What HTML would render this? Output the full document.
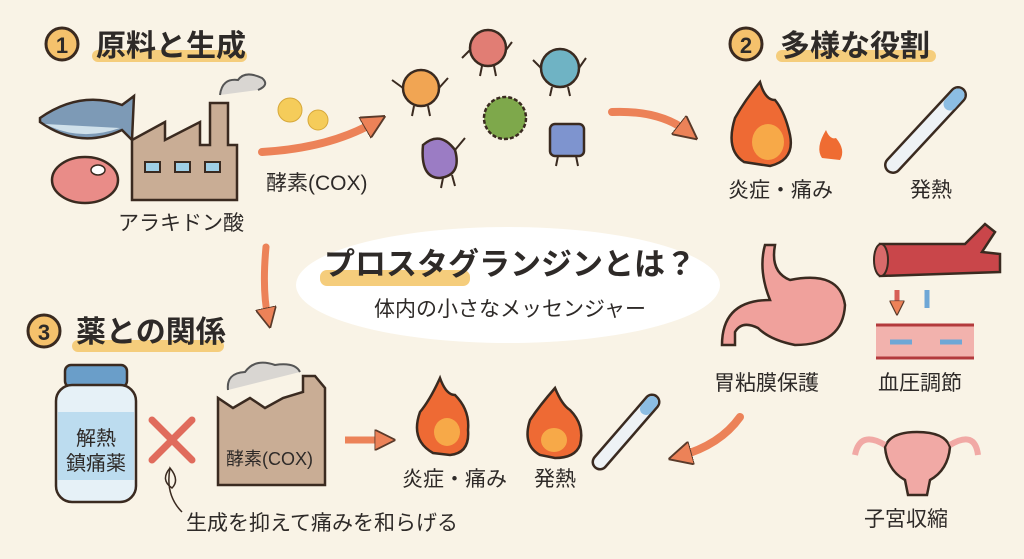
<!DOCTYPE html>
<html><head><meta charset="utf-8"><style>
html,body{margin:0;padding:0;background:#f9f3e6}
svg{display:block}
text{font-family:"Liberation Sans","Noto Sans CJK JP",sans-serif;fill:#2e2a28}
.h{font-weight:bold;font-size:30px}
.l{font-size:21px}
</style></head><body>
<svg width="1024" height="559" viewBox="0 0 1024 559" xmlns="http://www.w3.org/2000/svg">
<defs>
<marker id="ah" viewBox="0 0 10 10" refX="5" refY="5" markerWidth="3" markerHeight="3" orient="auto"><path d="M0,0 L10,5 L0,10 z" fill="#ec8258" stroke="#5a3a2a" stroke-width="0.8"/></marker>
</defs>
<rect width="1024" height="559" fill="#f9f3e6"/>
<!-- headings -->
<rect x="92" y="50" width="155" height="12" rx="6" fill="#f5cd7c"/>
<circle cx="62" cy="44" r="16" fill="#f5c16c" stroke="#3a2a20" stroke-width="3"/>
<text x="62" y="53" text-anchor="middle" font-size="22" font-weight="bold">1</text>
<text x="96" y="56" class="h">原料と生成</text>
<rect x="776" y="50" width="160" height="12" rx="6" fill="#f5cd7c"/>
<circle cx="746" cy="44" r="16" fill="#f5c16c" stroke="#3a2a20" stroke-width="3"/>
<text x="746" y="53" text-anchor="middle" font-size="22" font-weight="bold">2</text>
<text x="780" y="56" class="h">多様な役割</text>
<rect x="72" y="340" width="152" height="12" rx="6" fill="#f5cd7c"/>
<circle cx="44" cy="331" r="16" fill="#f5c16c" stroke="#3a2a20" stroke-width="3"/>
<text x="44" y="340" text-anchor="middle" font-size="22" font-weight="bold">3</text>
<text x="76" y="342" class="h">薬との関係</text>

<!-- center ellipse -->
<ellipse cx="508" cy="285" rx="212" ry="58" fill="#ffffff"/>
<rect x="320" y="270" width="150" height="16" rx="7" fill="#f5cd7c"/>
<text x="510" y="275" text-anchor="middle" font-size="31" font-weight="bold">プロスタグランジンとは？</text>
<text x="510" y="316" text-anchor="middle" font-size="21">体内の小さなメッセンジャー</text>

<!-- fish -->
<path d="M40,118 Q80,90 122,105 L134,96 L132,140 L122,130 Q80,150 40,122z" fill="#7d9ab6" stroke="#3a2a20" stroke-width="2.5"/>
<path d="M45,124 Q80,142 120,128" fill="#cfe0ea" stroke="none"/>
<!-- meat -->
<ellipse cx="85" cy="180" rx="33" ry="23" fill="#e98c88" stroke="#3a2a20" stroke-width="2.5"/>
<ellipse cx="98" cy="170" rx="7" ry="5" fill="#fff" stroke="#3a2a20" stroke-width="1.5"/>
<!-- factory 1 -->
<path d="M132,200 L132,140 L165,122 L165,140 L200,122 L200,145 L210,145 L210,103 L228,103 L228,145 L237,145 L237,200z" fill="#c9ad95" stroke="#3a2a20" stroke-width="2.5"/>
<rect x="145" y="162" width="15" height="10" fill="#9fcfe6" stroke="#3a2a20" stroke-width="2"/>
<rect x="175" y="162" width="15" height="10" fill="#9fcfe6" stroke="#3a2a20" stroke-width="2"/>
<rect x="205" y="162" width="15" height="10" fill="#9fcfe6" stroke="#3a2a20" stroke-width="2"/>
<path d="M220,95 Q222,78 238,80 Q245,70 262,78 Q270,85 258,90" fill="#d9d6d2" stroke="#555" stroke-width="2"/>
<text x="118" y="230" class="l">アラキドン酸</text>
<!-- puffs -->
<circle cx="290" cy="110" r="12" fill="#f5cc5a" stroke="#d7a83a" stroke-width="1"/>
<circle cx="318" cy="120" r="10" fill="#f5cc5a" stroke="#d7a83a" stroke-width="1"/>
<!-- arrow 1 -->
<path d="M262,152 Q330,148 375,122" fill="none" stroke="#ec8258" stroke-width="8" stroke-linecap="round" marker-end="url(#ah)"/>
<text x="266" y="190" class="l">酵素(COX)</text>
<!-- characters -->
<g stroke="#3a2a20" stroke-width="2" fill="none">
<path d="M403,88 L392,80 M439,88 L448,78 M414,106 L412,116 M428,106 L430,116"/>
<path d="M470,50 L462,58 M506,50 L512,42 M482,66 L480,76 M494,66 L496,76"/>
<path d="M541,68 L533,60 M579,68 L586,58 M552,87 L550,96 M568,87 L570,96"/>
<path d="M443,178 L441,188 M452,175 L455,186 M455,150 L465,138"/>
<path d="M558,156 L556,166 M576,156 L578,166"/>
</g>
<circle cx="421" cy="88" r="18" fill="#f1a553" stroke="#3a2a20" stroke-width="2.5"/>
<circle cx="488" cy="48" r="18" fill="#e17d74" stroke="#3a2a20" stroke-width="2.5"/>
<circle cx="560" cy="68" r="19" fill="#6fb3c4" stroke="#3a2a20" stroke-width="2.5"/>
<circle cx="505" cy="118" r="21" fill="#7ea84b" stroke="#3a2a20" stroke-width="2.5" stroke-dasharray="4 2"/>
<path d="M423,145 Q440,130 455,150 Q462,175 440,178 Q420,178 423,145z" fill="#9b7cc4" stroke="#3a2a20" stroke-width="2.5"/>
<rect x="550" y="124" width="34" height="32" rx="5" fill="#7e94cf" stroke="#3a2a20" stroke-width="2.5"/>
<!-- arrow 2 -->
<path d="M612,112 Q660,110 688,132" fill="none" stroke="#ec8258" stroke-width="8" stroke-linecap="round" marker-end="url(#ah)"/>
<!-- flame big -->
<path d="M744,162 Q725,150 735,118 Q745,100 760,82 Q765,100 775,100 Q785,112 790,135 Q795,160 770,166z" fill="#ee6a34" stroke="#3a2a20" stroke-width="2.5"/>
<ellipse cx="768" cy="142" rx="16" ry="18" fill="#f7a948"/>
<path d="M822,158 Q815,148 826,130 Q830,140 836,138 Q846,150 840,160z" fill="#ef6c32"/>
<text x="728" y="197" class="l">炎症・痛み</text>
<!-- thermometer -->
<path d="M893,165 L958,95" stroke="#3a2a20" stroke-width="18" stroke-linecap="round"/>
<path d="M893,165 L958,95" stroke="#eef2f5" stroke-width="13" stroke-linecap="round"/>
<path d="M950,104 L958,95" stroke="#8cbde3" stroke-width="13" stroke-linecap="round"/>
<text x="910" y="197" class="l">発熱</text>
<!-- stomach -->
<path d="M775,245 Q770,272 790,280 Q840,270 845,305 Q843,345 795,345 Q770,340 758,328 Q742,320 735,332 L735,345 L722,345 Q722,300 770,300 Q758,270 765,245z" fill="#f0a19c" stroke="#3a2a20" stroke-width="2.5"/>
<text x="714" y="390" class="l">胃粘膜保護</text>
<!-- vessels -->
<path d="M880,244 L965,244 L985,224 L995,232 L982,252 L1000,254 L1000,272 L880,276z" fill="#c9464a" stroke="#3a2a20" stroke-width="2.5"/>
<ellipse cx="881" cy="260" rx="7" ry="16" fill="#d86a6a" stroke="#3a2a20" stroke-width="2"/>
<path d="M897,290 L897,308" stroke="#d75f56" stroke-width="5" marker-end="url(#ah)"/>
<path d="M927,290 L927,308" stroke="#6fa7d6" stroke-width="5"/>
<rect x="876" y="325" width="98" height="33" fill="#f2b2ad"/>
<path d="M876,325 L974,325 M876,358 L974,358" stroke="#b33a3c" stroke-width="3"/>
<path d="M890,342 L912,342 M940,342 L962,342" stroke="#6fa7d6" stroke-width="5"/>
<text x="878" y="390" class="l">血圧調節</text>
<!-- uterus -->
<path d="M885,447 Q890,432 917,432 Q945,432 950,447 Q948,470 930,480 L927,495 L908,495 L905,480 Q887,470 885,447z" fill="#f1a9a5" stroke="#3a2a20" stroke-width="2.5"/>
<path d="M885,445 Q860,430 855,455 M950,445 Q975,430 978,455" fill="none" stroke="#f1a9a5" stroke-width="6"/>
<text x="864" y="526" class="l">子宮収縮</text>
<!-- arrow down -->
<path d="M266,247 Q262,290 268,318" fill="none" stroke="#ec8258" stroke-width="7" stroke-linecap="round" marker-end="url(#ah)"/>
<!-- bottle -->
<rect x="65" y="365" width="62" height="22" rx="6" fill="#6a9ec9" stroke="#3a2a20" stroke-width="2.5"/>
<rect x="56" y="385" width="80" height="117" rx="16" fill="#e6f1f7" stroke="#3a2a20" stroke-width="2.5"/>
<rect x="58" y="412" width="76" height="68" fill="#bcdcef"/>
<text x="96" y="445" text-anchor="middle" font-size="20">解熱</text>
<text x="96" y="470" text-anchor="middle" font-size="20">鎮痛薬</text>
<!-- X -->
<path d="M152,420 L192,460 M192,420 L152,460" stroke="#e06b5c" stroke-width="7" stroke-linecap="round"/>
<path d="M170,468 Q160,480 172,488 Q180,480 170,468 Q165,495 182,512" fill="none" stroke="#3a2a20" stroke-width="1.5"/>
<text x="186" y="530" class="l">生成を抑えて痛みを和らげる</text>
<!-- factory 2 -->
<path d="M218,485 L218,398 L233,408 L250,398 L265,408 L283,398 L303,392 L303,376 L315,376 L325,388 L325,485z" fill="#c9ad95" stroke="#3a2a20" stroke-width="2.5"/>
<path d="M228,390 Q226,373 245,372 Q255,358 275,365 Q295,362 300,372" fill="#d9d6d2" stroke="#555" stroke-width="2"/>
<text x="226" y="465" font-size="18">酵素(COX)</text>
<!-- arrow right -->
<path d="M345,440 L385,440" stroke="#ec8258" stroke-width="7" marker-end="url(#ah)"/>
<!-- flames bottom -->
<path d="M433,453 Q410,440 420,412 Q430,400 440,378 Q446,395 455,395 Q470,410 468,430 Q470,453 450,455z" fill="#ee6a34" stroke="#3a2a20" stroke-width="2.5"/>
<ellipse cx="447" cy="432" rx="13" ry="14" fill="#f7a948"/>
<text x="402" y="486" class="l">炎症・痛み</text>
<path d="M540,455 Q522,445 530,420 Q540,405 555,388 Q562,405 570,410 Q585,425 580,445 Q575,458 555,458z" fill="#ee6a34" stroke="#3a2a20" stroke-width="2.5"/>
<ellipse cx="554" cy="440" rx="13" ry="12" fill="#f7a948"/>
<text x="534" y="486" class="l">発熱</text>
<path d="M600,462 L652,402" stroke="#3a2a20" stroke-width="17" stroke-linecap="round"/>
<path d="M600,462 L652,402" stroke="#eef2f5" stroke-width="12" stroke-linecap="round"/>
<path d="M646,409 L652,402" stroke="#8cbde3" stroke-width="12" stroke-linecap="round"/>
<!-- arrow back -->
<path d="M740,417 Q720,445 680,456" fill="none" stroke="#ec8258" stroke-width="8" stroke-linecap="round" marker-end="url(#ah)"/>
</svg>
</body></html>
